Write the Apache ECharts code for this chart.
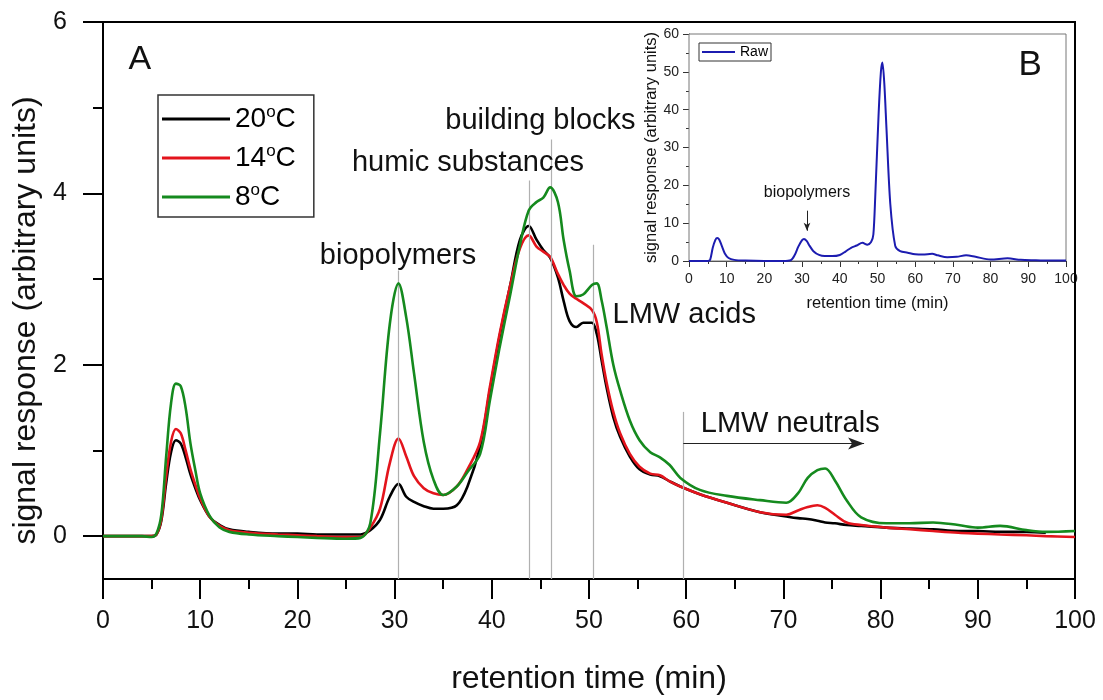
<!DOCTYPE html>
<html>
<head>
<meta charset="utf-8">
<script src="https://cdn.jsdelivr.net/npm/echarts@6/dist/echarts.min.js"></script>
<style>html,body{margin:0;padding:0;background:#fff}#c{width:1103px;height:700px}</style>
</head>
<body>
<div id="c"></div>
<script>
// ---- main chart (A) data ----
const times = [0,2,4,5,5.5,6,6.5,7,7.5,8,8.5,9,9.5,10,11,12,13,15,18,20,22,25,26.5,27.5,28.5,29.5,30.4,31.2,32,33,34,35,36.4,37.5,38.8,39.8,40.8,41.9,42.9,43.8,44.6,45.3,46,46.8,47.4,48,48.7,49.4,50.3,50.8,51.3,51.8,52.5,53.2,54.2,55.2,56.3,57.3,58.3,59.4,61.4,64.2,67.6,70.3,71.5,72.5,73.5,74.3,75.3,76.5,78,80.6,83,85.4,88,90,92.3,95,97,100];
const s20 = [0,0,0,0,0.02,0.18,0.62,0.98,1.12,1.08,0.92,0.72,0.56,0.42,0.22,0.13,0.08,0.05,0.03,0.03,0.02,0.02,0.02,0.07,0.19,0.46,0.61,0.46,0.4,0.35,0.32,0.32,0.36,0.58,1.05,1.7,2.33,2.93,3.46,3.62,3.46,3.34,3.25,3.02,2.74,2.51,2.44,2.49,2.49,2.36,2.05,1.74,1.39,1.16,0.93,0.78,0.72,0.7,0.64,0.58,0.49,0.39,0.28,0.23,0.21,0.2,0.18,0.16,0.15,0.13,0.12,0.1,0.09,0.08,0.06,0.06,0.05,0.05,0.04,null];
const s14 = [0,0,0,0,0.02,0.2,0.7,1.1,1.25,1.2,1.0,0.78,0.6,0.44,0.22,0.12,0.07,0.04,0.02,0.01,0,-0.01,-0.01,0.1,0.32,0.85,1.14,0.93,0.7,0.56,0.5,0.48,0.58,0.78,1.1,1.74,2.36,2.93,3.36,3.51,3.38,3.32,3.26,3.06,2.93,2.83,2.77,2.72,2.64,2.5,2.12,1.8,1.45,1.2,0.96,0.81,0.73,0.71,0.64,0.58,0.49,0.39,0.28,0.25,0.3,0.34,0.36,0.33,0.25,0.16,0.13,0.1,0.08,0.06,0.04,0.03,0.02,0.01,0,-0.01];
const s8 = [0,0,0,-0.01,0.03,0.25,0.93,1.55,1.78,1.75,1.5,1.08,0.77,0.5,0.23,0.1,0.05,0.02,0,-0.01,-0.02,-0.03,-0.02,0.15,1.2,2.47,2.95,2.55,1.9,1.1,0.66,0.48,0.58,0.75,0.96,1.58,2.2,2.82,3.4,3.8,3.9,3.95,4.07,3.9,3.45,3.1,2.8,2.82,2.93,2.95,2.75,2.45,2.0,1.7,1.35,1.12,0.98,0.92,0.83,0.68,0.54,0.47,0.42,0.39,0.5,0.68,0.77,0.79,0.65,0.42,0.22,0.15,0.15,0.16,0.13,0.1,0.12,0.07,0.05,0.06];
const seriesNames = ['20°C','14°C','8°C'];
const seriesColors = ['#000000','#e3141c','#158a1e'];
const yMajorTicks = [0,2,4,6];
const yMinorTicks = [1,3,5];

// guide lines and annotations (main)
const guideTimes = [30.4, 43.9, 46.1, 50.4, 59.7];
const guideTops  = [3.1, 4.15, 4.63, 3.4, 1.45];
const annoTexts = ['building blocks','humic substances','biopolymers','LMW acids','LMW neutrals','A'];
const annoX = [45.0, 37.55, 30.35, 59.8, 70.7, 3.8];
const annoY = [4.84, 4.35, 3.27, 2.58, 1.31, 5.56];
const arrowFrom = [59.7, 1.08];
const arrowTo = [78.3, 1.08];

// ---- inset chart (B) data ----
const rawTimes = [0,5,5.6,6.3,7,7.5,8,8.7,9.5,10.5,12,15,20,25,27,28,29,30,30.5,31.2,32,33,34.5,36,38,40,41.5,43,44.5,46,47.3,48.3,48.9,49.4,50.3,50.9,51.3,51.8,52.4,53.4,54.7,56,58,60,62,64.5,66,68.5,71,73.5,76,80,84.5,88,92,96,100];
const rawVals = [0,0,0.3,3.5,5.6,6.1,5.7,4,2,0.8,0.3,0.1,0,0,0.2,1.5,3.8,5.5,5.8,5.3,4,2.6,1.6,1.3,1.3,1.6,2.5,3.5,4.1,4.8,4.3,5,7,17,39,50,52.5,47,34.6,15,4,2.6,2.2,1.8,1.7,1.9,1.5,1,1.1,1.5,1.1,0.4,0.7,0.3,0.2,0.1,0.1];
const insetAnno = {text:'biopolymers', x:31.3, y:18.0, arrowTop:13.3, arrowBottom:8.0};
const insetLetter = {text:'B', x:90.5, y:51.8};

const FONT = 'Liberation Sans, Arial, sans-serif';
const pair = (xs, ys) => xs.map((x,i) => [x, ys[i]]);
const chart = echarts.init(document.getElementById('c'), null, {renderer:'canvas'});

const mainVals = [s20, s14, s8];
const lineSeries = mainVals.map((vals, k) => ({
  name: seriesNames[k], type:'line', xAxisIndex:0, yAxisIndex:0,
  data: pair(times, vals), showSymbol:false, symbol:'none',
  smooth:0.35, lineStyle:{color:seriesColors[k], width:2.6}, itemStyle:{color:seriesColors[k]},
  z: 3 + k, animation:false
}));

// guide lines on the first series
lineSeries[0].markLine = {
  silent:true, symbol:['none','none'], animation:false,
  lineStyle:{color:'#b0b0b0', width:1.2, type:'solid'}, label:{show:false},
  data: guideTimes.map((t,i) => [{coord:[t,-0.5]},{coord:[t,guideTops[i]]}]).concat([
    [{coord:arrowFrom, lineStyle:{color:'#222', width:1.2}, symbol:'none'},
     {coord:arrowTo, symbol:'arrow', symbolSize:[9,16]}]
  ])
};
lineSeries[2].markPoint = {
  silent:true, animation:false,
  data: annoTexts.map((t,i) => ({
    name:t, coord:[annoX[i], annoY[i]], symbol:'circle', symbolSize:1,
    itemStyle:{color:'rgba(0,0,0,0)'},
    label:{show:true, position:'inside', formatter:t, color:'#111',
      fontSize: t === 'A' ? 34 : 29, fontFamily:FONT}
  }))
};

const rawSeries = {
  name:'Raw', type:'line', xAxisIndex:2, yAxisIndex:2,
  data: pair(rawTimes, rawVals), showSymbol:false, symbol:'none', smooth:0.3,
  lineStyle:{color:'#1c1cb0', width:2}, itemStyle:{color:'#1c1cb0'}, z:10, animation:false,
  markLine:{silent:true, animation:false, symbol:['none','arrow'], symbolSize:[5,8],
    lineStyle:{color:'#222', width:1, type:'solid'}, label:{show:false},
    data:[[{coord:[insetAnno.x, insetAnno.arrowTop]},{coord:[insetAnno.x, insetAnno.arrowBottom]}]]},
  markPoint:{silent:true, animation:false, data:[
    {name:insetAnno.text, coord:[insetAnno.x, insetAnno.y], symbol:'circle', symbolSize:1,
     itemStyle:{color:'rgba(0,0,0,0)'},
     label:{show:true, position:'inside', formatter:insetAnno.text, color:'#111', fontSize:16, fontFamily:FONT}},
    {name:insetLetter.text, coord:[insetLetter.x, insetLetter.y], symbol:'circle', symbolSize:1,
     itemStyle:{color:'rgba(0,0,0,0)'},
     label:{show:true, position:'inside', formatter:insetLetter.text, color:'#111', fontSize:35, fontFamily:FONT}}
  ]}
};

const option = {
  backgroundColor:'#ffffff',
  animation:false,
  textStyle:{fontFamily:FONT},
  grid:[
    {left:103, right:28, top:22, bottom:117, show:true, borderColor:'#000', borderWidth:2, backgroundColor:'transparent', z:1},
    {left:689, right:37, top:34, bottom:439, show:true, borderColor:'#777', borderWidth:1, backgroundColor:'#fff', z:5}
  ],
  legend:[
    {data:seriesNames, orient:'vertical', left:158, top:95, icon:'rect', itemWidth:68, itemHeight:3,
     itemGap:10, padding:[9,18,6,4], borderColor:'#333', borderWidth:1.5, backgroundColor:'#fff',
     selectedMode:false, z:20,
     formatter: n => '{n|' + n.replace('°C','') + '}{s|o}{n|C}',
     textStyle:{color:'#000', fontFamily:FONT, rich:{
       n:{fontSize:28, lineHeight:30, color:'#000', fontFamily:FONT},
       s:{fontSize:17, lineHeight:30, verticalAlign:'top', color:'#000', fontFamily:FONT}}}},
    {data:[{name:'Raw', itemStyle:{color:'#1c1cb0'}}], orient:'horizontal', left:699, top:43, icon:'rect', itemWidth:33, itemHeight:2,
     padding:[2,3,2,3], borderColor:'#333', borderWidth:1, backgroundColor:'#fff', selectedMode:false, z:20,
     textStyle:{color:'#000', fontSize:14, fontFamily:FONT}}
  ],
  xAxis:[
    {type:'value', gridIndex:0, min:0, max:100, interval:10,
     name:'retention time (min)', nameLocation:'middle', nameGap:84,
     nameTextStyle:{fontSize:32, color:'#111', fontFamily:FONT},
     axisLine:{show:true, onZero:false, lineStyle:{color:'#000', width:2}},
     axisTick:{show:true, inside:false, length:20, lineStyle:{color:'#000', width:2}},
     minorTick:{show:true, splitNumber:2, length:10, lineStyle:{color:'#000', width:2}},
     axisLabel:{fontSize:25, color:'#111', margin:30, fontFamily:FONT},
     splitLine:{show:false}},
    {type:'value', gridIndex:1, min:0, max:100, interval:10,
     name:'retention time (min)', nameLocation:'middle', nameGap:34,
     nameTextStyle:{fontSize:16.5, color:'#111', fontFamily:FONT},
     axisLine:{show:true, onZero:false, lineStyle:{color:'#333', width:1}},
     axisTick:{show:true, inside:false, length:6, lineStyle:{color:'#333', width:1}},
     minorTick:{show:true, splitNumber:2, length:3, lineStyle:{color:'#333', width:1}},
     axisLabel:{fontSize:14, color:'#222', margin:11, fontFamily:FONT},
     splitLine:{show:false}}
  ],
  yAxis:[
    {type:'value', gridIndex:0, min:-0.5, max:6,
     name:'signal response (arbitrary units)', nameLocation:'middle', nameGap:58,
     nameTextStyle:{fontSize:32, color:'#111', fontFamily:FONT, padding:[0,40,0,0]},
     axisLine:{show:true, onZero:false, lineStyle:{color:'#000', width:2}},
     axisTick:{show:true, inside:false, length:20, customValues:yMajorTicks, lineStyle:{color:'#000', width:2}},
     axisLabel:{fontSize:25, color:'#111', margin:36, customValues:yMajorTicks, fontFamily:FONT},
     splitLine:{show:false}},
    {type:'value', gridIndex:0, min:-0.5, max:6, position:'left',
     axisLine:{show:false, onZero:false},
     axisTick:{show:true, inside:false, length:10, customValues:yMinorTicks, lineStyle:{color:'#000', width:2}},
     axisLabel:{show:false}, splitLine:{show:false}},
    {type:'value', gridIndex:1, min:0, max:60, interval:10,
     name:'signal response (arbitrary units)', nameLocation:'middle', nameGap:29,
     nameTextStyle:{fontSize:16.5, color:'#111', fontFamily:FONT},
     axisLine:{show:true, onZero:false, lineStyle:{color:'#333', width:1}},
     axisTick:{show:true, inside:false, length:6, lineStyle:{color:'#333', width:1}},
     minorTick:{show:true, splitNumber:2, length:3, lineStyle:{color:'#333', width:1}},
     axisLabel:{fontSize:14, color:'#222', margin:10, fontFamily:FONT},
     splitLine:{show:false}}
  ],
  series: lineSeries.map(s => Object.assign(s, {xAxisIndex:0})).concat([Object.assign(rawSeries, {xAxisIndex:1, yAxisIndex:2})])
};
chart.setOption(option);
</script>
</body>
</html>
